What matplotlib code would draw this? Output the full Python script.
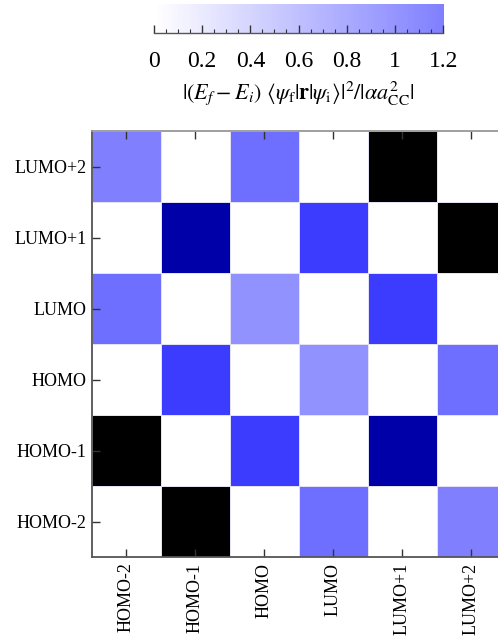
import numpy as np
import matplotlib
matplotlib.use("Agg")
import matplotlib.pyplot as plt
from matplotlib.colors import LinearSegmentedColormap, Normalize

plt.rcParams['font.family'] = ['Liberation Serif', 'DejaVu Serif']
plt.rcParams['mathtext.fontset'] = 'stix'

# orbital labels (bottom-to-top / left-to-right)
orbitals = ["HOMO-2", "HOMO-1", "HOMO", "LUMO", "LUMO+1", "LUMO+2"]

# transition strengths, rows = final state (HOMO-2 .. LUMO+2), cols = initial state
row_homo2 = [0.0, 3.6, 0.0, 1.37, 0.0, 1.2]
row_homo1 = [3.6, 0.0, 1.84, 0.0, 2.8, 0.0]
row_homo = [0.0, 1.84, 0.0, 1.04, 0.0, 1.37]
row_lumo = [1.37, 0.0, 1.04, 0.0, 1.84, 0.0]
row_lumo1 = [0.0, 2.8, 0.0, 1.84, 0.0, 3.6]
row_lumo2 = [1.2, 0.0, 1.37, 0.0, 3.6, 0.0]

cbar_ticks = [0, 0.2, 0.4, 0.6, 0.8, 1.0, 1.2]
cbar_labels = ["0", "0.2", "0.4", "0.6", "0.8", "1", "1.2"]

values = np.array([row_homo2, row_homo1, row_homo, row_lumo, row_lumo1, row_lumo2])

# white -> blue -> black colour scale
vmax = 3.6
cmap = LinearSegmentedColormap.from_list(
    "wbk", [(0.0, "white"), (2.4 / vmax, "#0000ff"), (1.0, "black")])
norm = Normalize(vmin=0, vmax=vmax)

fig = plt.figure(figsize=(4.98, 6.41), dpi=100)

# main heatmap (right edge runs past the figure, as in the reference)
ax = fig.add_axes([0.1847, 0.131, 0.8313, 0.6646])
ax.pcolormesh(values, cmap=cmap, norm=norm, edgecolors="#e2e2f4", linewidth=0.5)
ax.set_xlim(0, 6)
ax.set_ylim(0, 6)
centers = np.arange(len(orbitals)) + 0.5
ax.set_xticks(centers)
ax.set_xticklabels(orbitals, rotation=90, fontsize=13)
ax.set_yticks(centers)
ax.set_yticklabels(orbitals, fontsize=13)
ax.tick_params(axis="both", direction="in", length=6, width=1.0, color="#333333",
               top=True, right=True, pad=4)
for name, sp in ax.spines.items():
    sp.set_color("#555555" if name in ("left", "bottom") else "#999999")
    sp.set_linewidth(1.3)

# colour bar on top, only 0..1.2 shown
cax = fig.add_axes([0.309, 0.9485, 0.581, 0.046])
grad = np.linspace(0, 1.2, 300).reshape(1, -1)
cax.imshow(grad, cmap=cmap, norm=norm, extent=[0, 1.2, 0, 1], aspect="auto")
cax.set_xlim(0, 1.2)
cax.set_ylim(0, 1)
cax.set_yticks([])
cax.set_xticks(cbar_ticks)
cax.set_xticklabels(cbar_labels, fontsize=17)
cax.set_xticks(np.arange(0, 1.201, 0.05), minor=True)
cax.tick_params(axis="x", which="major", direction="in", length=6, width=1.0,
                color="#333333", pad=13)
cax.tick_params(axis="x", which="minor", direction="in", length=3, width=0.8,
                color="#333333")
for name in ("top", "left", "right"):
    cax.spines[name].set_visible(False)
cax.spines["bottom"].set_color("#555555")
cax.spines["bottom"].set_linewidth(1.0)
cax.set_xlabel(r"$|(E_f - E_i)\ \langle\psi_\mathrm{f}|\mathbf{r}|\psi_\mathrm{i}\rangle|^2/|\alpha a_\mathrm{CC}^2|$",
               fontsize=16, labelpad=5)

fig.savefig("out.png", dpi=100)
